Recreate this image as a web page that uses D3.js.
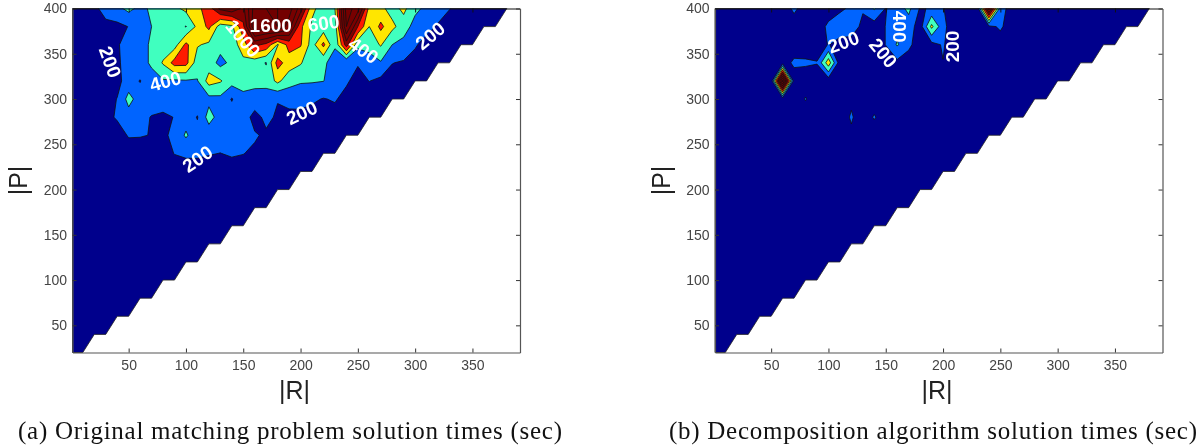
<!DOCTYPE html>
<html><head><meta charset="utf-8">
<script src="https://cdn.jsdelivr.net/npm/d3@7/dist/d3.min.js"></script>
<style>html,body{margin:0;padding:0;background:#fff}svg{display:block;filter:blur(0.35px)}</style>
</head><body><svg id="c" width="1202" height="448"></svg>
<script>
// Grid: P = 20..400 step 20 (bottom row first); R = 0,10,20,... (first column is |R|=1)
const pValues = d3.range(20, 401, 20);
const xTicks = [50,100,150,200,250,300,350];
const yTicks = [50,100,150,200,250,300,350,400];
const levels = [200,400,600,800,1000,1200,1400,1600,1800,2000];
const levelColors = ["#0064ff","#40ffbf","#ffe600","#ff1a00","#800000","#7c0000","#780000","#740000","#700000","#6c0000"];
const baseColor = "#00008c";

const originalTimes = [
 [1,1],
 [2,2,3,3],
 [5,5,5,5,5,5],
 [5,10,10,10,10,10,5,5],
 [10,10,15,15,15,15,10,10,10,10],
 [15,15,20,20,20,20,20,20,15,15,15,10],
 [20,20,25,25,25,30,30,30,25,25,20,20,15,15],
 [25,25,30,30,35,35,40,40,40,35,35,30,30,25,25,20],
 [30,35,40,45,50,50,55,55,60,60,55,50,45,45,40,35,30,25],
 [40,45,50,55,60,65,70,75,80,85,90,85,80,75,70,60,55,50,45,40],
 [45,50,60,70,80,90,100,110,115,120,120,120,125,130,125,120,110,100,90,80,70,60],
 [50,60,70,80,90,110,120,130,140,205,230,230,210,198,220,205,170,130,120,110,100,90,80,70],
 [60,70,75,90,120,215,210,195,170,240,430,260,280,270,280,260,220,170,140,130,120,110,100,95,85,75],
 [60,70,80,150,220,310,260,190,170,205,300,190,480,310,300,300,130,250,170,150,140,130,125,120,110,100,90,80],
 [70,80,85,130,205,470,300,300,280,280,300,320,340,350,185,350,320,300,210,260,280,230,190,220,130,110,100,90,85,80],
 [70,80,90,100,150,280,190,350,380,370,380,390,680,620,480,470,460,470,650,480,420,420,405,300,230,120,205,150,130,110,95,90],
 [80,90,100,110,160,300,350,420,620,880,870,480,500,340,450,550,480,390,880,700,620,450,430,330,200,220,300,380,205,180,130,110,95,85],
 [80,90,100,120,180,280,350,420,480,510,850,620,560,470,500,700,1050,950,580,880,820,510,850,420,1100,450,480,620,400,330,220,130,110,100,90,85],
 [90,100,110,130,150,205,300,400,450,500,390,650,850,500,550,950,1800,1700,1800,1500,850,560,480,480,1600,1000,600,850,650,500,320,260,180,130,110,100,95,90],
 [90,100,140,300,350,450,350,430,500,550,650,750,900,1250,1350,1150,1700,1800,1800,1700,1300,650,500,600,1700,1500,720,650,520,650,450,350,280,205,150,120,110,100,90]
];
const decompositionTimes = [
 [1,1],
 [2,2,2,2],
 [3,3,3,3,3,3],
 [4,4,5,5,5,5,4,4],
 [5,5,6,6,6,6,6,5,5,5],
 [6,6,7,7,8,8,8,7,7,7,6,6],
 [8,8,9,9,10,10,10,10,9,9,9,8,8,8],
 [10,10,12,12,12,12,15,15,10,10,10,10,10,10,10,10],
 [15,15,20,20,20,20,20,20,20,15,15,15,15,15,15,10,10,10],
 [20,20,20,25,25,25,25,25,25,25,20,20,20,20,20,15,15,15,15,15],
 [20,25,25,25,30,30,30,30,30,30,30,25,25,25,25,25,20,20,20,20,20,15],
 [25,25,30,30,30,35,35,35,35,35,35,35,30,30,30,30,30,25,25,25,25,20,20,20],
 [25,30,30,35,35,40,40,40,40,40,40,40,150,40,40,35,35,35,35,30,30,30,30,25,25,25],
 [30,35,40,40,45,45,45,45,50,50,50,50,230,50,225,45,45,40,40,40,40,35,35,35,35,30,30,30],
 [35,40,45,45,50,50,70,55,215,55,50,50,150,50,50,45,45,45,45,45,40,40,40,40,40,35,35,35,35,30],
 [40,45,50,50,60,60,1900,90,80,70,80,70,70,65,65,60,60,60,55,55,55,50,50,50,45,45,45,40,40,40,35,35],
 [40,50,50,60,60,70,100,240,230,210,720,90,80,80,75,70,150,110,80,75,195,70,70,65,65,60,60,60,55,55,50,50,45,40],
 [50,50,60,60,70,70,80,80,90,100,210,130,120,110,100,205,420,240,100,130,220,80,80,75,70,100,80,75,70,70,65,60,60,55,50,50],
 [50,60,60,70,70,80,80,100,90,150,220,300,300,150,100,205,350,300,100,650,250,90,85,100,150,230,100,90,85,80,80,75,70,65,60,60,55,50],
 [60,70,70,80,80,90,90,240,110,100,150,170,230,220,420,190,300,450,180,220,210,100,90,100,1500,300,100,90,85,80,80,75,70,70,65,60,60,60,55]
];
const originalLabels = [
 ["200",34,341,70],["400",82,320,-15],["1000",150,367,50],["1600",174,382,0],["600",220,384,-8],
 ["400",255,354,35],["200",313,370,-40],["200",201,285,-25],["200",110,234,-35]
];
const decompositionLabels = [
 ["200",113,363,-20],["200",148,351,50],["400",162,380,90],["200",208,358,-90]
];

const svg = d3.select("#c");
const ncols = 40, nrows = pValues.length;

function panel(id, rows, labels, x0, x1, caption, capX, capW) {
  const x = d3.scaleLinear().domain([1,391.5]).range([x0,x1]);
  const y = d3.scaleLinear().domain([20,400]).range([352.5,8.5]);
  const g = svg.append("g");

  // staircase outline of the defined region
  const lastR = rows.map(r => (r.length-1)*10);
  const line = d3.line().x(d=>x(d[0])).y(d=>y(d[1]));
  const staircase = [[1,20],[1,400]];
  for (let j = nrows-1; j >= 1; j--) {
    staircase.push([lastR[j],pValues[j]]);
    staircase.push([lastR[j-1]+10,pValues[j]]);
  }
  staircase.push([lastR[0],pValues[0]]);
  const clipId = "clip"+id;
  g.append("clipPath").attr("id",clipId).append("path").attr("d",line(staircase)+"Z");

  g.append("path").attr("d",line(staircase)+"Z").attr("fill",baseColor)
    .attr("stroke","#222").attr("stroke-width",0.8);

  const grid = new Array(ncols*nrows).fill(0);
  rows.forEach((r,j)=>r.forEach((v,i)=>{grid[j*ncols+i]=v;}));
  const contours = d3.contours().size([ncols,nrows]).thresholds(levels)(grid);
  const proj = d3.geoTransform({point(cx,cy){
    this.stream.point(x(10*(cx-0.5)), y(20+20*(cy-0.5)));
  }});
  const path = d3.geoPath(proj);
  g.append("g").attr("clip-path",`url(#${clipId})`)
    .selectAll("path").data(contours).join("path")
    .attr("d",path)
    .attr("fill",(d,i)=>levelColors[i])
    .attr("stroke","#101010").attr("stroke-width",0.8);

  // axes
  const tc = "#444";
  const ax = g.append("g");
  const b = ax.append("g").attr("transform","translate(0,352.5)")
    .call(d3.axisBottom(x).tickValues(xTicks).tickSizeInner(-4).tickSizeOuter(0).tickPadding(7.5));
  const l = ax.append("g").attr("transform",`translate(${x0},0)`)
    .call(d3.axisLeft(y).tickValues(yTicks).tickSizeInner(-4).tickSizeOuter(0).tickPadding(5.5));
  const t = ax.append("g").attr("transform","translate(0,8.5)")
    .call(d3.axisTop(x).tickValues(xTicks).tickSizeInner(-4).tickSizeOuter(0).tickFormat(""));
  const r = ax.append("g").attr("transform",`translate(${x1},0)`)
    .call(d3.axisRight(y).tickValues(yTicks).tickSizeInner(-4).tickSizeOuter(0).tickFormat(""));
  [b,l,r].forEach(a=>{a.selectAll(".domain").attr("stroke","#555").attr("stroke-width",1.2);
    a.selectAll(".tick line").attr("stroke","#333");
    a.selectAll("text").attr("fill",tc).style("font-family","'Liberation Sans'").style("font-size","14px");});
  t.selectAll(".domain").attr("stroke","#111").attr("stroke-width",1.2);
  t.selectAll(".tick line").attr("stroke","#111");

  // contour labels
  g.append("g").selectAll("text").data(labels).join("text")
    .attr("transform",d=>`translate(${x(d[1])},${y(d[2])}) rotate(${d[3]})`)
    .attr("text-anchor","middle").attr("dy","0.36em")
    .attr("fill","#fff").style("font-family","'Liberation Sans'").style("font-weight","bold").style("font-size","19px")
    .text(d=>d[0]);

  // axis titles
  const mid = x0 + 222;
  g.append("text").attr("x",mid).attr("y",399).attr("text-anchor","middle")
    .style("font-family","'Liberation Sans'").style("font-size","25px").attr("fill","#222").text("|R|");
  g.append("text").attr("transform",`translate(${x0-45.5},180.5) rotate(-90)`).attr("text-anchor","middle")
    .style("font-family","'Liberation Sans'").style("font-size","25px").attr("fill","#222").text("|P|");
  // caption
  g.append("text").attr("x",capX).attr("y",439).attr("textLength",capW).attr("lengthAdjust","spacing")
    .style("font-family","'Liberation Serif'").style("font-size","25px").attr("fill","#111").text(caption);
}

panel("a", originalTimes, originalLabels, 72.5, 520, "(a) Original matching problem solution times (sec)", 18, 544);
panel("b", decompositionTimes, decompositionLabels, 715, 1162.5, "(b) Decomposition algorithm solution times (sec)", 669, 528);
</script></body></html>
